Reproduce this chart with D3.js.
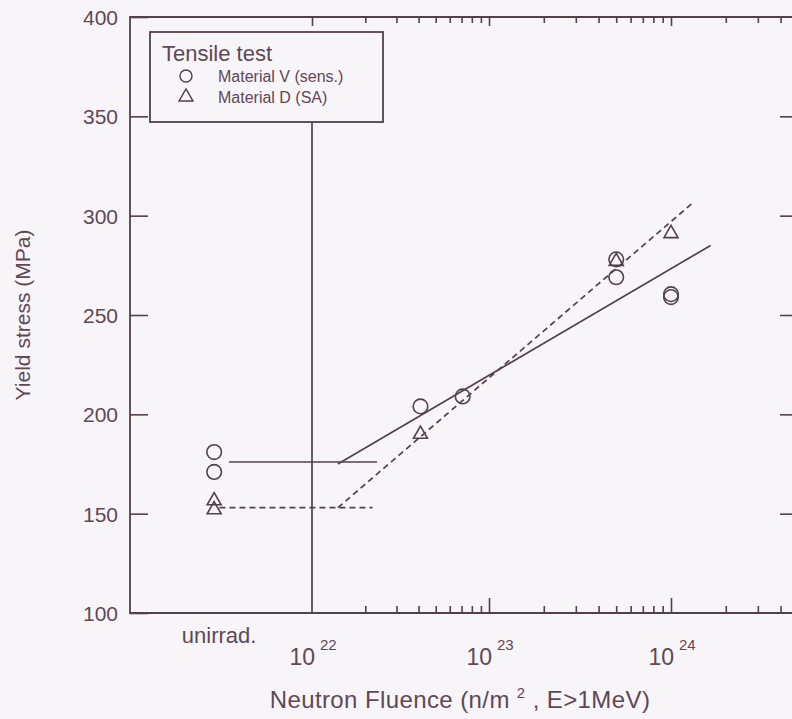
<!DOCTYPE html>
<html><head><meta charset="utf-8">
<script src="https://cdn.jsdelivr.net/npm/d3@7"></script>
<style>
html,body{margin:0;padding:0;background:#f8f5f8;}
svg{display:block;font-family:"Liberation Sans",Arial,Helvetica,sans-serif;}
</style></head><body>
<svg id="chart" width="792" height="719"></svg>
<script>
// Yield stress of irradiated materials vs. neutron fluence (n/m², E>1MeV)
const UNIRRAD = 2.8e21; // plotting position used for the unirradiated specimens

// Material V (sens.) — circles
const fluenceV = [UNIRRAD, UNIRRAD, 4.1e22, 7.1e22, 5e23, 5e23, 1e24, 1e24];
const stressV  = [181, 171, 204, 209, 278, 269, 260.5, 259];
// Material D (SA) — triangles
const fluenceD = [UNIRRAD, UNIRRAD, 4.1e22, 5e23, 1e24];
const stressD  = [156.5, 152, 190, 277, 291];

// trend lines: sloped fit through irradiated data, flat unirradiated level
const fitV   = [[1.4e22, 175], [1.65e24, 285]];
const fitD   = [[1.4e22, 153], [1.3e24, 306]];
const levelV = [[3.4e21, 176], [2.33e22, 176]];
const levelD = [[3.0e21, 153], [2.2e22, 153]];

const yTicks = [100, 150, 200, 250, 300, 350, 400];
const xMajor = [1e22, 1e23, 1e24];
const xExponents = ["22", "23", "24"];
const xMinor = [2,3,4,5,6,7,8,9].map(m => m * 1e22)
  .concat([2,3,4,5,6,7,8,9].map(m => m * 1e23))
  .concat([2,3,4].map(m => m * 1e24));

const legendTitle = "Tensile test";
const legendItems = ["Material V (sens.)", "Material D (SA)"];

const INK = "#52404a", TEXT = "#5e4855", BG = "#f8f5f8";

const svg = d3.select("#chart");
const frame = {left: 130, right: 798, top: 17, bottom: 613};

const x = d3.scaleLog().domain([1e22, 1e23, 1e24]).range([312, 489, 671]);
const y = d3.scaleLinear().domain([100, 400]).range([frame.bottom, frame.top]);

// frame (right edge runs just past the canvas)
svg.append("path")
  .attr("d", `M${frame.right},${frame.top}H${frame.left}V${frame.bottom}H${frame.right}V${frame.top}`)
  .attr("fill", "none").attr("stroke", INK).attr("stroke-width", 1.8);

// bottom/top axis ticks (pointing into the plot)
const bottomMinor = d3.axisBottom(x).tickValues(xMinor).tickSize(-7).tickFormat("");
const bottomMajor = d3.axisBottom(x).tickValues(xMajor.slice(1)).tickSize(-15).tickFormat("");
const topMinor = d3.axisTop(x).tickValues(xMinor).tickSize(-6).tickFormat("");
const topMajor = d3.axisTop(x).tickValues(xMajor).tickSize(-9).tickFormat("");
[[bottomMinor, frame.bottom], [bottomMajor, frame.bottom], [topMinor, frame.top], [topMajor, frame.top]]
  .forEach(([ax, ty]) => {
    const g = svg.append("g").attr("transform", `translate(0,${ty})`).call(ax);
    g.select(".domain").remove();
    g.selectAll("line").attr("stroke", INK).attr("stroke-width", 1.6);
  });

// left and right y ticks
const leftAx = svg.append("g").attr("transform", `translate(${frame.left},0)`)
  .call(d3.axisLeft(y).tickValues(yTicks).tickSize(-18).tickPadding(12).tickFormat(d3.format("d")));
leftAx.select(".domain").remove();
leftAx.selectAll("line").attr("stroke", INK).attr("stroke-width", 1.6);
leftAx.selectAll("text").attr("fill", TEXT).attr("font-size", 21)
  .attr("font-family", '"Liberation Sans",Arial,sans-serif').attr("dy", "0.36em");
const rightAx = svg.append("g").attr("transform", `translate(${frame.right},0)`)
  .call(d3.axisRight(y).tickValues(yTicks.slice(1, -1)).tickSize(-18).tickFormat(""));
rightAx.select(".domain").remove();
rightAx.selectAll("line").attr("stroke", INK).attr("stroke-width", 1.6);

// x tick labels: 10 with superscript exponent
const xl = svg.append("g").attr("fill", TEXT);
xMajor.forEach((v, i) => {
  xl.append("text").attr("x", x(v) + 3).attr("y", 665).attr("text-anchor", "end")
    .attr("font-size", 23).text("10");
  xl.append("text").attr("x", x(v) + 8).attr("y", 650).attr("font-size", 15).text(xExponents[i]);
});
xl.append("text").attr("x", x(UNIRRAD) + 5).attr("y", 643).attr("text-anchor", "middle")
  .attr("font-size", 22).text("unirrad.");

// axis titles
const xt = svg.append("text").attr("x", 460).attr("y", 708).attr("text-anchor", "middle")
  .attr("fill", TEXT).attr("font-size", 24).attr("letter-spacing", 0.4);
xt.append("tspan").text("Neutron Fluence (n/m ");
xt.append("tspan").attr("font-size", 15).attr("dy", -10).text("2");
xt.append("tspan").attr("dy", 10).text(" , E>1MeV)");
svg.append("text").attr("transform", `translate(30,${y(250)}) rotate(-90)`)
  .attr("text-anchor", "middle").attr("fill", TEXT).attr("font-size", 21)
  .text("Yield stress (MPa)");

// vertical separator at 10^22 (from legend down to the axis)
const legendBox = {x: 150, y: 32, w: 233, h: 90};
svg.append("line").attr("x1", x(1e22)).attr("x2", x(1e22))
  .attr("y1", legendBox.y + legendBox.h).attr("y2", frame.bottom)
  .attr("stroke", INK).attr("stroke-width", 1.7);

// trend lines
const line = d3.line().x(d => x(d[0])).y(d => y(d[1]));
[[fitV, null], [levelV, null], [fitD, "6,4"], [levelD, "6,4"]].forEach(([pts, dash]) => {
  svg.append("path").attr("d", line(pts)).attr("fill", "none")
    .attr("stroke", INK).attr("stroke-width", 1.7)
    .attr("stroke-dasharray", dash);
});

// markers
const tri = d3.symbol().type(d3.symbolTriangle).size(85);
svg.append("g").selectAll("circle").data(d3.zip(fluenceV, stressV)).join("circle")
  .attr("cx", d => x(d[0])).attr("cy", d => y(d[1])).attr("r", 7.3)
  .attr("fill", "none").attr("stroke", INK).attr("stroke-width", 1.6);
svg.append("g").selectAll("path").data(d3.zip(fluenceD, stressD)).join("path")
  .attr("transform", d => `translate(${x(d[0])},${y(d[1])})`).attr("d", tri)
  .attr("fill", "none").attr("stroke", INK).attr("stroke-width", 1.6);

// legend
const lg = svg.append("g");
lg.append("rect").attr("x", legendBox.x).attr("y", legendBox.y)
  .attr("width", legendBox.w).attr("height", legendBox.h)
  .attr("fill", BG).attr("stroke", INK).attr("stroke-width", 1.8);
lg.append("text").attr("x", 162).attr("y", 61).attr("fill", TEXT).attr("font-size", 22).text(legendTitle);
lg.append("circle").attr("cx", 186).attr("cy", 76).attr("r", 6)
  .attr("fill", "none").attr("stroke", INK).attr("stroke-width", 1.4);
lg.append("path").attr("transform", "translate(186,97)").attr("d", tri)
  .attr("fill", "none").attr("stroke", INK).attr("stroke-width", 1.4);
legendItems.forEach((t, i) => {
  lg.append("text").attr("x", 218).attr("y", 82 + i * 21).attr("fill", TEXT)
    .attr("font-size", 16).text(t);
});
</script>
</body></html>
